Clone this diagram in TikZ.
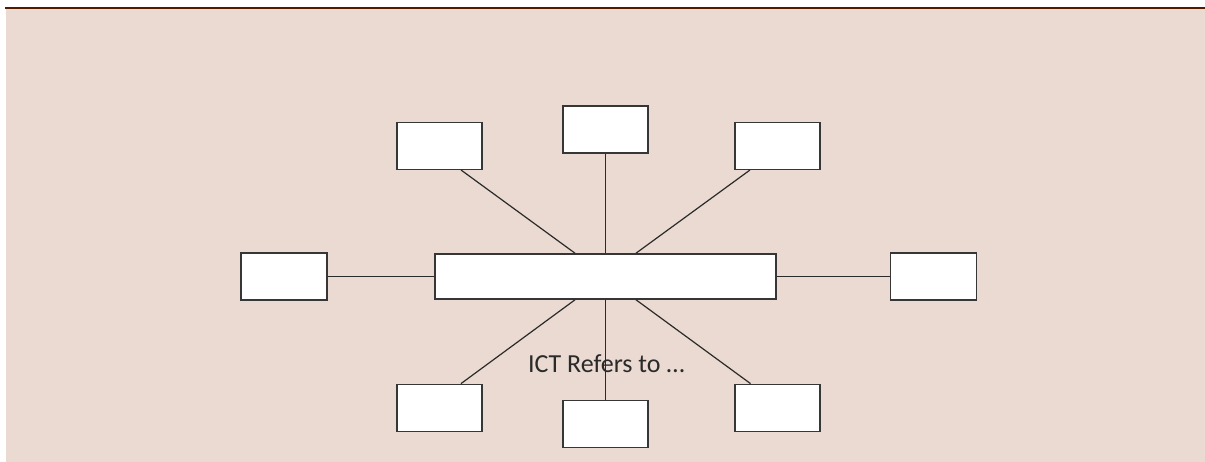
\documentclass[tikz,border=0pt]{standalone}
\usepackage{fontspec}
\setmainfont{Carlito}
\definecolor{bgpink}{HTML}{EADAD2}
\definecolor{topline}{HTML}{521B00}
\definecolor{boxline}{HTML}{363636}
\definecolor{txt}{HTML}{2A2A2A}
\tikzset{
  smallbox/.style={draw=boxline, line width=1.4pt, fill=white, inner sep=0pt,
    minimum width=85pt, minimum height=47pt},
  bigbox/.style={draw=boxline, line width=1.6pt, fill=white, inner sep=0pt,
    minimum width=341pt, minimum height=45pt},
  link/.style={draw=txt, line width=1.2pt}
}
\begin{document}
\begin{tikzpicture}[x=1pt,y=-1pt]
\useasboundingbox (0,0) rectangle (1205,462);
\fill[bgpink] (6,9) rectangle (1205,462);
\fill[topline] (5,7) rectangle (1205,9.2);
% nodes
\node[bigbox] (c) at (605.5,276.5) {};
\node[smallbox, minimum width=86pt] (l) at (284,276.5) {};
\node[smallbox, minimum width=86pt] (r) at (933.5,276.5) {};
\node[smallbox] (ul) at (439.5,145.8) {};
\node[smallbox] (t) at (605.5,129.5) {};
\node[smallbox] (ur) at (777.5,145.8) {};
\node[smallbox] (bl) at (439.5,407.8) {};
\node[smallbox] (b) at (605.5,423.8) {};
\node[smallbox] (br) at (777.5,407.8) {};
% connectors
\draw[link] (l.east) -- (c.west);
\draw[link] (c.east) -- (r.west);
\draw[link] (t.south) -- (c.north);
\draw[link] (c.south) -- (b.north);
\draw[link] ([xshift=21.5pt]ul.south) -- ([xshift=-30.5pt]c.north);
\draw[link] ([xshift=-27.5pt]ur.south) -- ([xshift=30.5pt]c.north);
\draw[link] ([xshift=21.5pt]bl.north) -- ([xshift=-30.5pt]c.south);
\draw[link] ([xshift=-27pt]br.north) -- ([xshift=30.5pt]c.south);
% label
\node[anchor=base, inner sep=0pt, text=txt, font=\fontsize{26}{30}\selectfont] (lbl) at (606.3,372) {ICT Refers to …};
\end{tikzpicture}
\end{document}
